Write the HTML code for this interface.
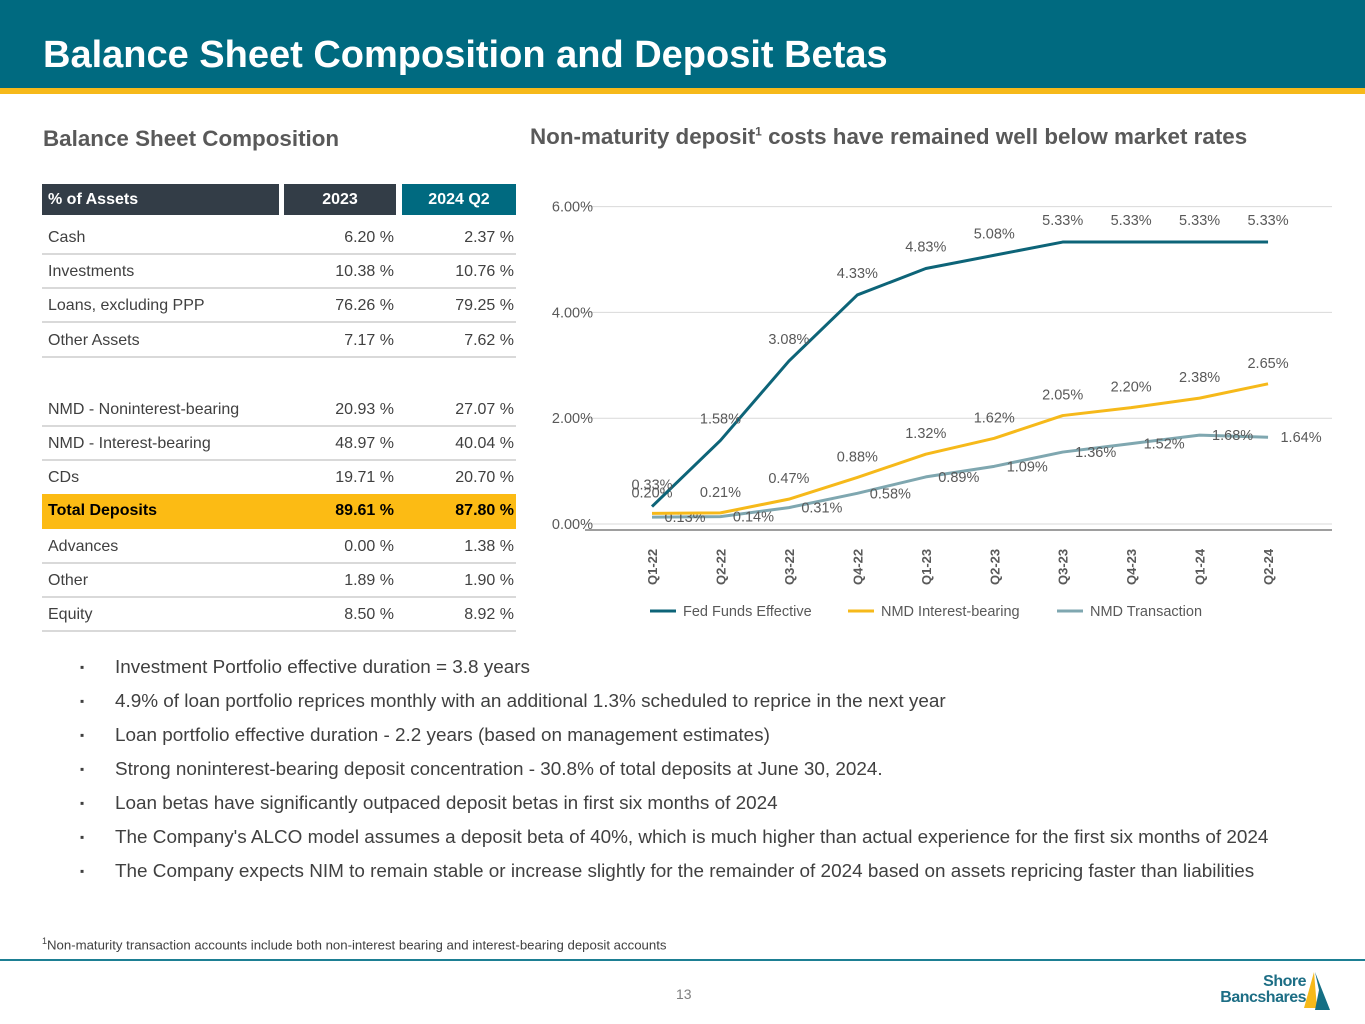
<!DOCTYPE html>
<html><head><meta charset="utf-8"><style>
*{margin:0;padding:0;box-sizing:border-box}
body{width:1365px;height:1024px;position:relative;background:#fff;font-family:"Liberation Sans",Arial,sans-serif;overflow:hidden}
.abs{position:absolute}
.row{position:absolute;left:42px;width:474px;height:34px;font-size:16px;color:#404040;border-bottom:2px solid #d9d9d9}
.row span{position:absolute;top:8px}
.c1{left:6px}.c2{right:122px}.c3{right:2px}
.bl{position:absolute;left:80px;font-size:18.9px;color:#404040}
.bl b{position:absolute;left:0;font-weight:normal;font-size:12px;top:3px}
.bl span{position:absolute;left:35px;white-space:nowrap}
</style></head><body>
<div class="abs" style="left:0;top:0;width:1365px;height:88px;background:#006a80"></div>
<div class="abs" style="left:0;top:88px;width:1365px;height:6px;background:#f6b91a"></div>
<div class="abs" style="left:43px;top:34px;font-size:38px;font-weight:bold;color:#fff">Balance Sheet Composition and Deposit Betas</div>
<div class="abs" style="left:43px;top:126px;font-size:22.4px;font-weight:bold;color:#595959">Balance Sheet Composition</div>
<div class="abs" style="left:530px;top:124px;font-size:22.4px;font-weight:bold;color:#595959">Non-maturity deposit<sup style="font-size:12px">1</sup> costs have remained well below market rates</div>

<div>
<div class="abs" style="left:42px;top:184px;width:237px;height:31px;background:#333d47;color:#fff;font-weight:bold;font-size:16px;padding:7px 6px">% of Assets</div>
<div class="abs" style="left:284px;top:184px;width:112px;height:31px;background:#333d47;color:#fff;font-weight:bold;font-size:16px;padding-top:7px;text-align:center">2023</div>
<div class="abs" style="left:402px;top:184px;width:114px;height:31px;background:#006a80;color:#fff;font-weight:bold;font-size:16px;padding-top:7px;text-align:center">2024 Q2</div>
<div class="row" style="top:221px"><span class="c1">Cash</span><span class="c2">6.20 %</span><span class="c3">2.37 %</span></div>
<div class="row" style="top:255px"><span class="c1">Investments</span><span class="c2">10.38 %</span><span class="c3">10.76 %</span></div>
<div class="row" style="top:289px"><span class="c1">Loans, excluding PPP</span><span class="c2">76.26 %</span><span class="c3">79.25 %</span></div>
<div class="row" style="top:324px"><span class="c1">Other Assets</span><span class="c2">7.17 %</span><span class="c3">7.62 %</span></div>
<div class="row" style="top:393px"><span class="c1">NMD - Noninterest-bearing</span><span class="c2">20.93 %</span><span class="c3">27.07 %</span></div>
<div class="row" style="top:427px"><span class="c1">NMD - Interest-bearing</span><span class="c2">48.97 %</span><span class="c3">40.04 %</span></div>
<div class="row" style="top:461px;border-bottom:none"><span class="c1">CDs</span><span class="c2">19.71 %</span><span class="c3">20.70 %</span></div>
<div class="row" style="top:494px;height:35px;background:#fcbb14;color:#000;font-weight:bold;border-bottom:none"><span class="c1">Total Deposits</span><span class="c2">89.61 %</span><span class="c3">87.80 %</span></div>
<div class="row" style="top:530px"><span class="c1">Advances</span><span class="c2">0.00 %</span><span class="c3">1.38 %</span></div>
<div class="row" style="top:564px"><span class="c1">Other</span><span class="c2">1.89 %</span><span class="c3">1.90 %</span></div>
<div class="row" style="top:598px"><span class="c1">Equity</span><span class="c2">8.50 %</span><span class="c3">8.92 %</span></div>
</div>

<svg id="chart" class="abs" style="left:0;top:0" width="1365" height="640"></svg>

<div>
<div class="bl" style="top:657px"><b>▪</b><span>Investment Portfolio effective duration = 3.8 years</span></div>
<div class="bl" style="top:691px"><b>▪</b><span>4.9% of loan portfolio reprices monthly with an additional 1.3% scheduled to reprice in the next year</span></div>
<div class="bl" style="top:725px"><b>▪</b><span>Loan portfolio effective duration - 2.2 years (based on management estimates)</span></div>
<div class="bl" style="top:759px"><b>▪</b><span>Strong noninterest-bearing deposit concentration - 30.8% of total deposits at June 30, 2024.</span></div>
<div class="bl" style="top:793px"><b>▪</b><span>Loan betas have significantly outpaced deposit betas in first six months of 2024</span></div>
<div class="bl" style="top:827px"><b>▪</b><span>The Company's ALCO model assumes a deposit beta of 40%, which is much higher than actual experience for the first six months of 2024</span></div>
<div class="bl" style="top:861px"><b>▪</b><span>The Company expects NIM to remain stable or increase slightly for the remainder of 2024 based on assets repricing faster than liabilities</span></div>
</div>
<div class="abs" style="left:42px;top:936px;font-size:13.2px;color:#404040"><sup style="font-size:9px">1</sup>Non-maturity transaction accounts include both non-interest bearing and interest-bearing deposit accounts</div>
<div class="abs" style="left:0;top:959px;width:1365px;height:2px;background:#1d7f93"></div>
<div class="abs" style="left:676px;top:986px;font-size:14px;color:#7f7f7f">13</div>
<div class="abs" style="left:1212px;top:974px;width:120px;height:40px">
<div style="position:absolute;left:0;top:0;width:94px;text-align:right;font-weight:bold;font-size:16px;line-height:16px;color:#1d6e85;letter-spacing:-0.5px">Shore<br>Bancshares</div>
<svg style="position:absolute;left:86px;top:-4px" width="34" height="44"><polygon points="16,2 6,38 19,38" fill="#f6b91a"/><polygon points="17,2 32,40 17,40 21,20" fill="#156f84"/></svg>
</div>

<script>
const categories=["Q1-22","Q2-22","Q3-22","Q4-22","Q1-23","Q2-23","Q3-23","Q4-23","Q1-24","Q2-24"];
const fedFunds=[0.33,1.58,3.08,4.33,4.83,5.08,5.33,5.33,5.33,5.33];
const nmdInterest=[0.20,0.21,0.47,0.88,1.32,1.62,2.05,2.20,2.38,2.65];
const nmdTransaction=[0.13,0.14,0.31,0.58,0.89,1.09,1.36,1.52,1.68,1.64];
const yTicks=[0,2,4,6];
const seriesNames=["Fed Funds Effective","NMD Interest-bearing","NMD Transaction"];
const NS="http://www.w3.org/2000/svg";
const svg=document.getElementById('chart');
const x0=652,xStep=68.45,yZero=524,yPer=52.9;
const X=i=>x0+i*xStep, Y=v=>yZero-v*yPer;
function mk(tag,attrs,parent){const e=document.createElementNS(NS,tag);for(const k in attrs)e.setAttribute(k,attrs[k]);(parent||svg).appendChild(e);return e;}
yTicks.forEach(t=>{
 const g=mk('line',{x1:585,x2:1332,y1:Y(t),y2:Y(t),stroke:'#d9d9d9','stroke-width':1});
 
 
 const l=mk('text',{x:593,y:Y(t)+5,'text-anchor':'end','font-size':14.5,fill:'#595959'});
 l.textContent=t.toFixed(2)+'%';
 
 
});
const ax=mk('line',{x1:585,x2:1332,y1:530,y2:530,stroke:'#7f7f7f','stroke-width':1.5});


categories.forEach((c,i)=>{
 const t=mk('text',{transform:`translate(${X(i)+5},585) rotate(-90)`,'font-size':13,'font-weight':'bold',fill:'#595959'});
 t.textContent=c;
 
 
});
function series(data,color,name,dx,dy){
 const p=mk('polyline',{points:data.map((v,i)=>X(i)+','+Y(v)).join(' '),fill:'none',stroke:color,'stroke-width':3,'stroke-linejoin':'round'});
 
 
 data.forEach((v,i)=>{
  const t=mk('text',{x:X(i)+dx,y:Y(v)+dy,'text-anchor':'middle','font-size':14.5,fill:'#595959'});
  t.textContent=v.toFixed(2)+'%';
  
  
 });
}
series(nmdTransaction,'#7fa7b0','nmd-transaction',33,5);
series(nmdInterest,'#f6b91a','nmd-interest',0,-16);
series(fedFunds,'#0d6478','fed-funds',0,-17);
const cols=['#0d6478','#f6b91a','#7fa7b0'],lx=[650,848,1057];
seriesNames.forEach((n,i)=>{
 const l=mk('line',{x1:lx[i],x2:lx[i]+26,y1:611,y2:611,stroke:cols[i],'stroke-width':3});
 
 
 const t=mk('text',{x:lx[i]+33,y:616,'font-size':14.5,fill:'#595959'});
 t.textContent=n;
 
 
});
</script>
</body></html>
